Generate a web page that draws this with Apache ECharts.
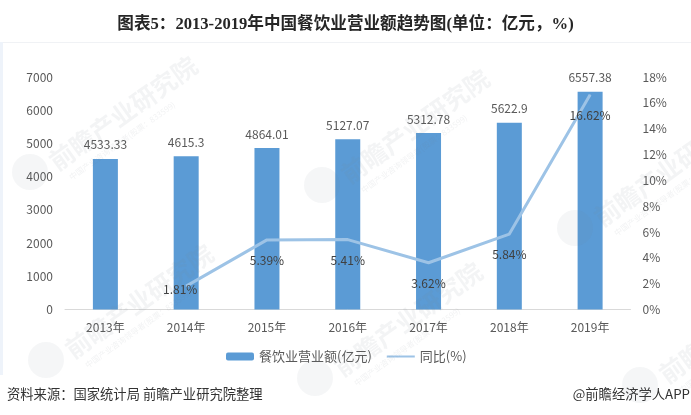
<!DOCTYPE html>
<html>
<head>
<meta charset="utf-8">
<style>
html,body{margin:0;padding:0;background:#fff;}
#chart{width:691px;height:415px;}
</style>
<script src="https://cdn.jsdelivr.net/npm/echarts@6/dist/echarts.min.js"></script>
</head>
<body>
<div id="chart"></div>
<script>
const years=['2013年','2014年','2015年','2016年','2017年','2018年','2019年']
const revenue=[4533.33,4615.3,4864.01,5127.07,5312.78,5622.9,6557.38]
const growth=[null,1.81,5.39,5.41,3.62,5.84,16.62]
const barName='餐饮业营业额(亿元)'
const lineName='同比(%)'
const titleText='图表5：2013-2019年中国餐饮业营业额趋势图(单位：亿元，%)'
const sourceText='资料来源：国家统计局 前瞻产业研究院整理'
const brandText='@前瞻经济学人APP'
const markName='前瞻产业研究院'
const markSub='中国产业咨询领导者(股票：833599)'

const textColor='#595959'
const cjk='"Noto Sans CJK SC","Noto Sans",sans-serif'

// 水印：logo圆 + 斜排文字
function watermark(x,y){
    const r=0.62
    return [
        {type:'circle',silent:true,z:10,shape:{cx:x,cy:y,r:18},style:{fill:'rgba(120,130,140,0.07)'}},
        {type:'text',silent:true,z:10,x:x+22,y:y-8,rotation:r,style:{text:markName,fontSize:25,fontFamily:cjk,fontWeight:'bold',fill:'rgba(120,130,140,0.09)',textVerticalAlign:'middle'}},
        {type:'text',silent:true,z:10,x:x+40,y:y+6,rotation:r,style:{text:markSub,fontSize:8,fontFamily:cjk,fill:'rgba(120,130,140,0.10)',textVerticalAlign:'middle'}}
    ]
}

const myChart=echarts.init(document.getElementById('chart'))

const option={
    animation:false,
    backgroundColor:'#fff',
    textStyle:{fontFamily:cjk},
    title:{
        text:titleText,
        left:'center',
        top:11,
        textStyle:{fontSize:16.6,fontWeight:'bold',color:'#262626',fontFamily:'"Liberation Serif","Noto Sans CJK SC",serif'}
    },
    legend:{
        data:[{name:barName},{name:lineName,itemStyle:{opacity:0}}],
        top:350,
        left:226,
        padding:0,
        itemWidth:28,
        itemHeight:8,
        itemGap:14,
        textStyle:{color:textColor,fontSize:13,fontFamily:cjk}
    },
    grid:{left:65,right:60.5,top:77,bottom:105.5},
    xAxis:{
        type:'category',
        data:years,
        axisTick:{show:false},
        axisLine:{lineStyle:{color:'#d9d9d9',width:1}},
        axisLabel:{color:textColor,fontSize:12,margin:12}
    },
    yAxis:[
        {
            type:'value',min:0,max:7000,interval:1000,
            splitLine:{show:false},axisLine:{show:false},axisTick:{show:false},
            axisLabel:{color:textColor,fontSize:12,margin:12,formatter:v=>String(v)}
        },
        {
            type:'value',min:0,max:18,interval:2,
            splitLine:{show:false},axisLine:{show:false},axisTick:{show:false},
            axisLabel:{color:textColor,fontSize:12,margin:12,formatter:'{value}%'}
        }
    ],
    series:[
        {
            name:barName,
            type:'bar',
            barWidth:25,
            data:revenue,
            itemStyle:{color:'#5b9bd5'},
            label:{show:true,position:'top',distance:8,color:textColor,fontSize:12}
        },
        {
            name:lineName,
            type:'line',
            yAxisIndex:1,
            data:growth.map((v,i)=>i===1?{value:v,label:{offset:[-6,-17]}}:v),
            showSymbol:true,
            symbol:'circle',
            symbolSize:1,
            lineStyle:{color:'#9dc3e6',width:3,join:'round'},
            itemStyle:{color:'#9dc3e6'},
            label:{show:true,position:'bottom',distance:14,color:'#404040',fontSize:12,formatter:p=>p.value+'%'}
        }
    ],
    graphic:[
        {type:'rect',silent:true,z:0,shape:{x:0,y:42,width:3,height:333},style:{fill:'#eef3fa'}},
        {type:'rect',silent:true,z:0,shape:{x:3,y:42,width:688,height:1},style:{fill:'#f0f2f5'}},
        ...watermark(30,172),
        ...watermark(46,360),
        ...watermark(322,185),
        ...watermark(315,378),
        ...watermark(575,228),
        ...watermark(640,385),
        {type:'text',silent:true,x:7,y:394,style:{text:sourceText,fontSize:13.3,fontFamily:cjk,fill:'#333',textVerticalAlign:'middle'}},
        {type:'text',silent:true,x:690,y:394,style:{text:brandText,fontSize:13.3,fontFamily:cjk,fill:'#333',textAlign:'right',textVerticalAlign:'middle'}}
    ]
}

myChart.setOption(option)
</script>
</body>
</html>
